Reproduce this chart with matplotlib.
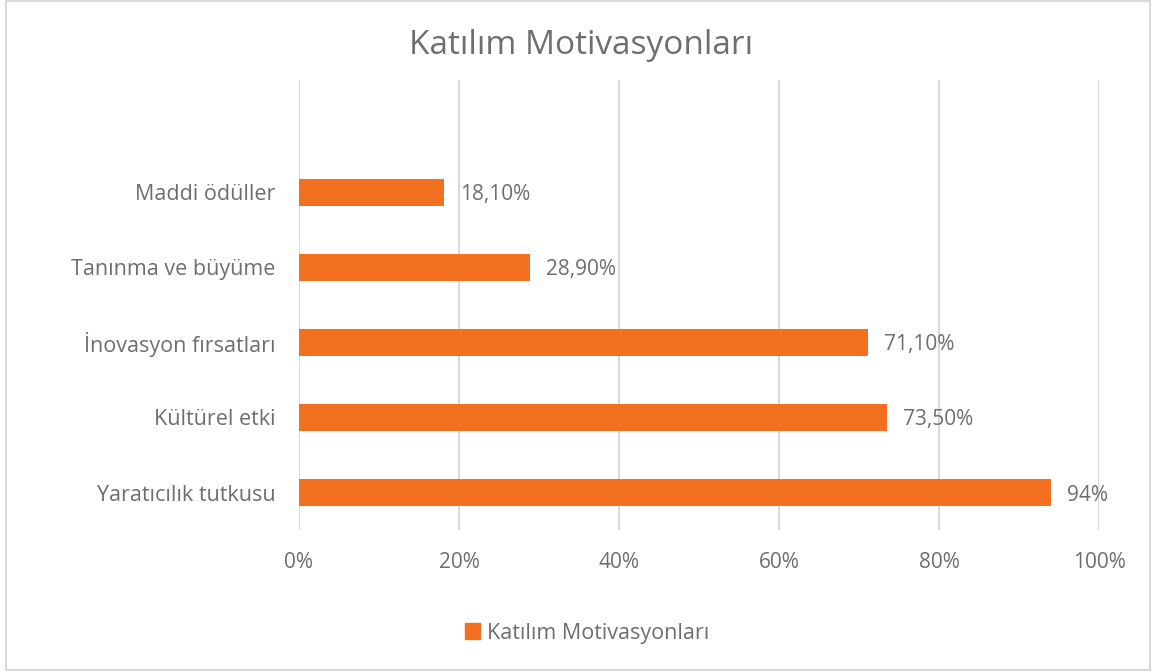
import matplotlib.pyplot as plt
from matplotlib.patches import Rectangle

plt.rcParams['font.family'] = ['Open Sans', 'DejaVu Sans']

categories = ['Yaratıcılık tutkusu', 'Kültürel etki', 'İnovasyon fırsatları',
              'Tanınma ve büyüme', 'Maddi ödüller']
values = [94.0, 73.5, 71.1, 28.9, 18.1]
labels = ['94%', '73,50%', '71,10%', '28,90%', '18,10%']
ticks = [0, 20, 40, 60, 80, 100]
tick_labels = ['0%', '20%', '40%', '60%', '80%', '100%']

bar_color = '#F37021'
text_color = '#6E6E6E'

fig = plt.figure(figsize=(11.53, 6.72), dpi=100)
ax = fig.add_axes([0.2593, 0.2113, 0.6939, 0.6697])

ypos = list(range(len(categories)))
ax.barh(ypos, values, height=0.35, color=bar_color, zorder=3)
for y, v, lab in zip(ypos, values, labels):
    ax.text(v + 2, y, lab, va='center_baseline', ha='left', fontsize=15, color=text_color)

ax.set_xlim(0, 100)
ax.set_ylim(-0.5, 5.5)
ax.set_xticks(ticks)
ax.set_xticklabels(tick_labels, fontsize=15, color=text_color)
ax.set_yticks(ypos)
ax.set_yticklabels(categories, fontsize=15.5, color=text_color)
ax.tick_params(length=0)
ax.tick_params(axis='y', pad=17)
ax.tick_params(axis='x', pad=16)
ax.grid(axis='x', color='#D9D9D9', linewidth=1.5, zorder=0)
for s in ax.spines.values():
    s.set_visible(False)

fig.text(0.504, 0.933, 'Katılım Motivasyonları', ha='center', va='center',
         fontsize=24, color=text_color)

leg = fig.legend([Rectangle((0, 0), 1, 1, color=bar_color)], ['Katılım Motivasyonları'],
                 loc='center', bbox_to_anchor=(0.509, 0.058), frameon=False,
                 fontsize=15.5, handlelength=0.7, handleheight=0.7, handletextpad=0.3)
for t in leg.get_texts():
    t.set_color(text_color)

fig.patches.append(Rectangle((0.005, 0.003), 0.992, 0.996, transform=fig.transFigure,
                             fill=False, edgecolor='#D9D9D9', linewidth=1.5))

fig.savefig('out.png', dpi=100)
